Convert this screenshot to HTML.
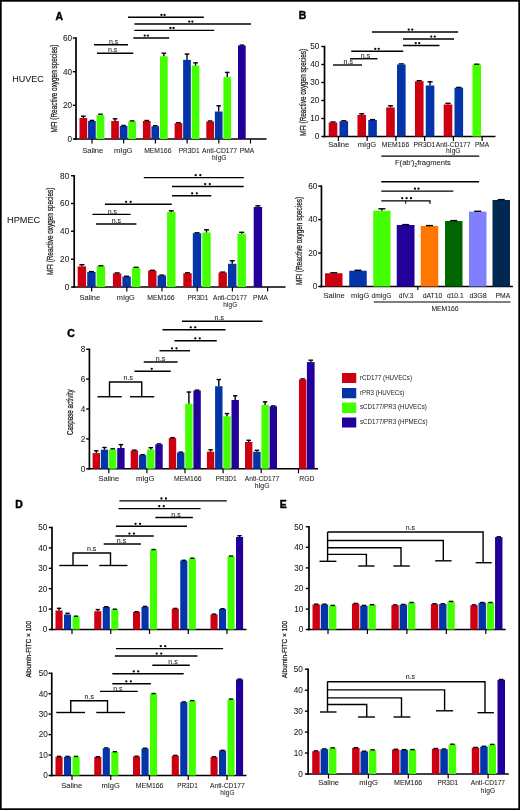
<!DOCTYPE html>
<html><head><meta charset="utf-8"><style>
html,body{margin:0;padding:0;background:#fff;}
svg{display:block;filter:blur(0.25px);}
text{font-family:"Liberation Sans",sans-serif;}
</style></head><body>
<svg width="520" height="810" viewBox="0 0 520 810">
<rect width="520" height="810" fill="#fff"/>
<text x="59.3" y="19.5" font-size="10.4" text-anchor="middle" fill="#000" font-weight="bold" stroke="#000" stroke-width="0.45">A</text>
<text x="28.1" y="81.7" font-size="9" text-anchor="middle" fill="#1a1a1a" stroke="#1a1a1a" stroke-width="0.06">HUVEC</text>
<text x="56.8" y="88.55" font-size="8.8" text-anchor="middle" fill="#1a1a1a" textLength="87.7" lengthAdjust="spacingAndGlyphs" transform="rotate(-90 56.8 88.55)" stroke="#1a1a1a" stroke-width="0.25">MFI (Reactive oxygen species)</text>
<line x1="76" y1="37.3" x2="76" y2="139.8" stroke="#000" stroke-width="1.7"/>
<line x1="72.8" y1="38" x2="76" y2="38" stroke="#000" stroke-width="1.4"/>
<text x="72" y="40.8" font-size="8.2" text-anchor="end" fill="#1a1a1a" stroke="#1a1a1a" stroke-width="0.06">60</text>
<line x1="72.8" y1="71.7" x2="76" y2="71.7" stroke="#000" stroke-width="1.4"/>
<text x="72" y="74.5" font-size="8.2" text-anchor="end" fill="#1a1a1a" stroke="#1a1a1a" stroke-width="0.06">40</text>
<line x1="72.8" y1="105.3" x2="76" y2="105.3" stroke="#000" stroke-width="1.4"/>
<text x="72" y="108.1" font-size="8.2" text-anchor="end" fill="#1a1a1a" stroke="#1a1a1a" stroke-width="0.06">20</text>
<line x1="72.8" y1="139" x2="76" y2="139" stroke="#000" stroke-width="1.4"/>
<text x="72" y="141.8" font-size="8.2" text-anchor="end" fill="#1a1a1a" stroke="#1a1a1a" stroke-width="0.06">0</text>
<line x1="74.4" y1="139" x2="266.5" y2="139" stroke="#000" stroke-width="1.7"/>
<line x1="92" y1="139" x2="92" y2="143.5" stroke="#000" stroke-width="1.2"/>
<line x1="123.7" y1="139" x2="123.7" y2="143.5" stroke="#000" stroke-width="1.2"/>
<line x1="155.4" y1="139" x2="155.4" y2="143.5" stroke="#000" stroke-width="1.2"/>
<line x1="187.1" y1="139" x2="187.1" y2="143.5" stroke="#000" stroke-width="1.2"/>
<line x1="218.8" y1="139" x2="218.8" y2="143.5" stroke="#000" stroke-width="1.2"/>
<line x1="250.5" y1="139" x2="250.5" y2="143.5" stroke="#000" stroke-width="1.2"/>
<rect x="79.5" y="118" width="7.7" height="21" fill="#cc0011"/>
<line x1="83.35" y1="118" x2="83.35" y2="115.9" stroke="#000" stroke-width="1.4"/>
<line x1="81.04" y1="116.2" x2="85.66" y2="116.2" stroke="#000" stroke-width="1.4"/>
<rect x="88.05" y="121" width="7.7" height="18" fill="#0334a8"/>
<line x1="89.59" y1="120.4" x2="94.21" y2="120.4" stroke="#000" stroke-width="1.4"/>
<rect x="96.6" y="115.1" width="7.7" height="23.9" fill="#44ff00"/>
<line x1="98.14" y1="114.2" x2="102.76" y2="114.2" stroke="#000" stroke-width="1.4"/>
<rect x="111.2" y="121" width="7.7" height="18" fill="#cc0011"/>
<line x1="115.05" y1="121" x2="115.05" y2="118.5" stroke="#000" stroke-width="1.4"/>
<line x1="112.74" y1="118.8" x2="117.36" y2="118.8" stroke="#000" stroke-width="1.4"/>
<rect x="119.75" y="126" width="7.7" height="13" fill="#0334a8"/>
<line x1="121.29" y1="125.5" x2="125.91" y2="125.5" stroke="#000" stroke-width="1.4"/>
<rect x="128.3" y="121.4" width="7.7" height="17.6" fill="#44ff00"/>
<line x1="129.84" y1="120.9" x2="134.46" y2="120.9" stroke="#000" stroke-width="1.4"/>
<rect x="142.9" y="121" width="7.7" height="18" fill="#cc0011"/>
<line x1="144.44" y1="120.5" x2="149.06" y2="120.5" stroke="#000" stroke-width="1.4"/>
<rect x="151.45" y="126.2" width="7.7" height="12.8" fill="#0334a8"/>
<line x1="152.99" y1="125.7" x2="157.61" y2="125.7" stroke="#000" stroke-width="1.4"/>
<rect x="160" y="56.3" width="7.7" height="82.7" fill="#44ff00"/>
<line x1="163.85" y1="56.3" x2="163.85" y2="52.9" stroke="#000" stroke-width="1.4"/>
<line x1="161.54" y1="53.2" x2="166.16" y2="53.2" stroke="#000" stroke-width="1.4"/>
<rect x="174.6" y="123.2" width="7.7" height="15.8" fill="#cc0011"/>
<line x1="176.14" y1="122.7" x2="180.76" y2="122.7" stroke="#000" stroke-width="1.4"/>
<rect x="183.15" y="59.8" width="7.7" height="79.2" fill="#0334a8"/>
<line x1="187" y1="59.8" x2="187" y2="53.8" stroke="#000" stroke-width="1.4"/>
<line x1="184.69" y1="54.1" x2="189.31" y2="54.1" stroke="#000" stroke-width="1.4"/>
<rect x="191.7" y="65.6" width="7.7" height="73.4" fill="#44ff00"/>
<line x1="195.55" y1="65.6" x2="195.55" y2="62.5" stroke="#000" stroke-width="1.4"/>
<line x1="193.24" y1="62.8" x2="197.86" y2="62.8" stroke="#000" stroke-width="1.4"/>
<rect x="206.3" y="121.5" width="7.7" height="17.5" fill="#cc0011"/>
<line x1="207.84" y1="121" x2="212.46" y2="121" stroke="#000" stroke-width="1.4"/>
<rect x="214.85" y="111.5" width="7.7" height="27.5" fill="#0334a8"/>
<line x1="218.7" y1="111.5" x2="218.7" y2="105.5" stroke="#000" stroke-width="1.4"/>
<line x1="216.39" y1="105.8" x2="221.01" y2="105.8" stroke="#000" stroke-width="1.4"/>
<rect x="223.4" y="77.1" width="7.7" height="61.9" fill="#44ff00"/>
<line x1="227.25" y1="77.1" x2="227.25" y2="72.1" stroke="#000" stroke-width="1.4"/>
<line x1="224.94" y1="72.4" x2="229.56" y2="72.4" stroke="#000" stroke-width="1.4"/>
<rect x="238" y="45.5" width="7.7" height="93.5" fill="#220099"/>
<line x1="239.54" y1="45.1" x2="244.16" y2="45.1" stroke="#000" stroke-width="1.4"/>
<text x="92.75" y="153.3" font-size="8" text-anchor="middle" fill="#1a1a1a" textLength="21" lengthAdjust="spacingAndGlyphs" stroke="#1a1a1a" stroke-width="0.06">Saline</text>
<text x="123.25" y="153.3" font-size="8" text-anchor="middle" fill="#1a1a1a" textLength="18.6" lengthAdjust="spacingAndGlyphs" stroke="#1a1a1a" stroke-width="0.06">mIgG</text>
<text x="157.8" y="153.3" font-size="8" text-anchor="middle" fill="#1a1a1a" textLength="27.3" lengthAdjust="spacingAndGlyphs" stroke="#1a1a1a" stroke-width="0.06">MEM166</text>
<text x="189.2" y="153.3" font-size="8" text-anchor="middle" fill="#1a1a1a" textLength="20.9" lengthAdjust="spacingAndGlyphs" stroke="#1a1a1a" stroke-width="0.06">PR3D1</text>
<text x="219.6" y="153.3" font-size="8" text-anchor="middle" fill="#1a1a1a" textLength="35.1" lengthAdjust="spacingAndGlyphs" stroke="#1a1a1a" stroke-width="0.06">Anti-CD177</text>
<text x="219.3" y="160.3" font-size="8" text-anchor="middle" fill="#1a1a1a" textLength="14.5" lengthAdjust="spacingAndGlyphs" stroke="#1a1a1a" stroke-width="0.06">hIgG</text>
<text x="247" y="153.3" font-size="8" text-anchor="middle" fill="#1a1a1a" textLength="14.5" lengthAdjust="spacingAndGlyphs" stroke="#1a1a1a" stroke-width="0.06">PMA</text>
<line x1="128" y1="17.3" x2="203.8" y2="17.3" stroke="#000" stroke-width="1.4"/>
<circle cx="161.45" cy="14.9" r="1.15" fill="#000"/>
<circle cx="164.55" cy="14.9" r="1.15" fill="#000"/>
<line x1="134.4" y1="24" x2="251" y2="24" stroke="#000" stroke-width="1.4"/>
<circle cx="189.25" cy="21.6" r="1.15" fill="#000"/>
<circle cx="192.35" cy="21.6" r="1.15" fill="#000"/>
<line x1="134.4" y1="30.4" x2="214.2" y2="30.4" stroke="#000" stroke-width="1.4"/>
<circle cx="170.45" cy="28" r="1.15" fill="#000"/>
<circle cx="173.55" cy="28" r="1.15" fill="#000"/>
<line x1="133.3" y1="38" x2="169.2" y2="38" stroke="#000" stroke-width="1.4"/>
<circle cx="144.75" cy="35.6" r="1.15" fill="#000"/>
<circle cx="147.85" cy="35.6" r="1.15" fill="#000"/>
<line x1="94" y1="44.8" x2="128" y2="44.8" stroke="#000" stroke-width="1.4"/>
<text x="113.6" y="43.9" font-size="7" text-anchor="middle" fill="#1a1a1a" stroke="#1a1a1a" stroke-width="0.06">n.s</text>
<line x1="97" y1="53.3" x2="133.3" y2="53.3" stroke="#000" stroke-width="1.4"/>
<text x="112.7" y="52.4" font-size="7" text-anchor="middle" fill="#1a1a1a" stroke="#1a1a1a" stroke-width="0.06">n.s</text>
<text x="23.6" y="222.9" font-size="9.2" text-anchor="middle" fill="#1a1a1a" stroke="#1a1a1a" stroke-width="0.06">HPMEC</text>
<text x="52.9" y="231.35" font-size="8.8" text-anchor="middle" fill="#1a1a1a" textLength="87.5" lengthAdjust="spacingAndGlyphs" transform="rotate(-90 52.9 231.35)" stroke="#1a1a1a" stroke-width="0.25">MFI (Reactive oxygen species)</text>
<line x1="74.2" y1="175.05" x2="74.2" y2="287.8" stroke="#000" stroke-width="1.7"/>
<line x1="71" y1="175.75" x2="74.2" y2="175.75" stroke="#000" stroke-width="1.4"/>
<text x="69.2" y="178.55" font-size="8.2" text-anchor="end" fill="#1a1a1a" stroke="#1a1a1a" stroke-width="0.06">80</text>
<line x1="71" y1="203.5" x2="74.2" y2="203.5" stroke="#000" stroke-width="1.4"/>
<text x="69.2" y="206.3" font-size="8.2" text-anchor="end" fill="#1a1a1a" stroke="#1a1a1a" stroke-width="0.06">60</text>
<line x1="71" y1="231.25" x2="74.2" y2="231.25" stroke="#000" stroke-width="1.4"/>
<text x="69.2" y="234.05" font-size="8.2" text-anchor="end" fill="#1a1a1a" stroke="#1a1a1a" stroke-width="0.06">40</text>
<line x1="71" y1="259.25" x2="74.2" y2="259.25" stroke="#000" stroke-width="1.4"/>
<text x="69.2" y="262.05" font-size="8.2" text-anchor="end" fill="#1a1a1a" stroke="#1a1a1a" stroke-width="0.06">20</text>
<line x1="71" y1="287" x2="74.2" y2="287" stroke="#000" stroke-width="1.4"/>
<text x="69.2" y="289.8" font-size="8.2" text-anchor="end" fill="#1a1a1a" stroke="#1a1a1a" stroke-width="0.06">0</text>
<line x1="72.6" y1="287" x2="285.5" y2="287" stroke="#000" stroke-width="1.7"/>
<line x1="91.6" y1="287" x2="91.6" y2="291.5" stroke="#000" stroke-width="1.2"/>
<line x1="126.8" y1="287" x2="126.8" y2="291.5" stroke="#000" stroke-width="1.2"/>
<line x1="162" y1="287" x2="162" y2="291.5" stroke="#000" stroke-width="1.2"/>
<line x1="197.2" y1="287" x2="197.2" y2="291.5" stroke="#000" stroke-width="1.2"/>
<line x1="232.4" y1="287" x2="232.4" y2="291.5" stroke="#000" stroke-width="1.2"/>
<line x1="267.6" y1="287" x2="267.6" y2="291.5" stroke="#000" stroke-width="1.2"/>
<rect x="77.7" y="266.4" width="8.4" height="20.6" fill="#cc0011"/>
<line x1="81.9" y1="266.4" x2="81.9" y2="264.4" stroke="#000" stroke-width="1.4"/>
<line x1="79.38" y1="264.7" x2="84.42" y2="264.7" stroke="#000" stroke-width="1.4"/>
<rect x="87.2" y="272" width="8.4" height="15" fill="#0334a8"/>
<line x1="88.88" y1="271.6" x2="93.92" y2="271.6" stroke="#000" stroke-width="1.4"/>
<rect x="96.7" y="266.2" width="8.4" height="20.8" fill="#44ff00"/>
<line x1="98.38" y1="265.8" x2="103.42" y2="265.8" stroke="#000" stroke-width="1.4"/>
<rect x="112.9" y="273.4" width="8.4" height="13.6" fill="#cc0011"/>
<line x1="114.58" y1="272.9" x2="119.62" y2="272.9" stroke="#000" stroke-width="1.4"/>
<rect x="122.4" y="276.6" width="8.4" height="10.4" fill="#0334a8"/>
<line x1="124.08" y1="276.3" x2="129.12" y2="276.3" stroke="#000" stroke-width="1.4"/>
<rect x="131.9" y="267.8" width="8.4" height="19.2" fill="#44ff00"/>
<line x1="133.58" y1="267.3" x2="138.62" y2="267.3" stroke="#000" stroke-width="1.4"/>
<rect x="148.1" y="270.6" width="8.4" height="16.4" fill="#cc0011"/>
<line x1="149.78" y1="270.3" x2="154.82" y2="270.3" stroke="#000" stroke-width="1.4"/>
<rect x="157.6" y="275.5" width="8.4" height="11.5" fill="#0334a8"/>
<line x1="159.28" y1="275.1" x2="164.32" y2="275.1" stroke="#000" stroke-width="1.4"/>
<rect x="167.1" y="212" width="8.4" height="75" fill="#44ff00"/>
<line x1="171.3" y1="212" x2="171.3" y2="210.5" stroke="#000" stroke-width="1.4"/>
<line x1="168.78" y1="210.8" x2="173.82" y2="210.8" stroke="#000" stroke-width="1.4"/>
<rect x="183.3" y="273.25" width="8.4" height="13.75" fill="#cc0011"/>
<line x1="184.98" y1="272.8" x2="190.02" y2="272.8" stroke="#000" stroke-width="1.4"/>
<rect x="192.8" y="233.25" width="8.4" height="53.75" fill="#0334a8"/>
<line x1="194.48" y1="232.8" x2="199.52" y2="232.8" stroke="#000" stroke-width="1.4"/>
<rect x="202.3" y="232.5" width="8.4" height="54.5" fill="#44ff00"/>
<line x1="206.5" y1="232.5" x2="206.5" y2="229.5" stroke="#000" stroke-width="1.4"/>
<line x1="203.98" y1="229.8" x2="209.02" y2="229.8" stroke="#000" stroke-width="1.4"/>
<rect x="218.5" y="272.5" width="8.4" height="14.5" fill="#cc0011"/>
<line x1="220.18" y1="272.1" x2="225.22" y2="272.1" stroke="#000" stroke-width="1.4"/>
<rect x="228" y="263.75" width="8.4" height="23.25" fill="#0334a8"/>
<line x1="232.2" y1="263.75" x2="232.2" y2="260.5" stroke="#000" stroke-width="1.4"/>
<line x1="229.68" y1="260.8" x2="234.72" y2="260.8" stroke="#000" stroke-width="1.4"/>
<rect x="237.5" y="233.75" width="8.4" height="53.25" fill="#44ff00"/>
<line x1="241.7" y1="233.75" x2="241.7" y2="232" stroke="#000" stroke-width="1.4"/>
<line x1="239.18" y1="232.3" x2="244.22" y2="232.3" stroke="#000" stroke-width="1.4"/>
<rect x="253.7" y="207" width="8.4" height="80" fill="#220099"/>
<line x1="257.9" y1="207" x2="257.9" y2="205.5" stroke="#000" stroke-width="1.4"/>
<line x1="255.38" y1="205.8" x2="260.42" y2="205.8" stroke="#000" stroke-width="1.4"/>
<text x="89.8" y="299.5" font-size="8" text-anchor="middle" fill="#1a1a1a" textLength="20.7" lengthAdjust="spacingAndGlyphs" stroke="#1a1a1a" stroke-width="0.06">Saline</text>
<text x="125.8" y="299.5" font-size="8" text-anchor="middle" fill="#1a1a1a" textLength="18.1" lengthAdjust="spacingAndGlyphs" stroke="#1a1a1a" stroke-width="0.06">mIgG</text>
<text x="160.9" y="299.5" font-size="8" text-anchor="middle" fill="#1a1a1a" textLength="27.4" lengthAdjust="spacingAndGlyphs" stroke="#1a1a1a" stroke-width="0.06">MEM166</text>
<text x="197.9" y="299.5" font-size="8" text-anchor="middle" fill="#1a1a1a" textLength="20.7" lengthAdjust="spacingAndGlyphs" stroke="#1a1a1a" stroke-width="0.06">PR3D1</text>
<text x="230" y="299.5" font-size="8" text-anchor="middle" fill="#1a1a1a" textLength="33.9" lengthAdjust="spacingAndGlyphs" stroke="#1a1a1a" stroke-width="0.06">Anti-CD177</text>
<text x="230.2" y="306.5" font-size="8" text-anchor="middle" fill="#1a1a1a" textLength="13.9" lengthAdjust="spacingAndGlyphs" stroke="#1a1a1a" stroke-width="0.06">hIgG</text>
<text x="260.5" y="299.5" font-size="8" text-anchor="middle" fill="#1a1a1a" textLength="14.8" lengthAdjust="spacingAndGlyphs" stroke="#1a1a1a" stroke-width="0.06">PMA</text>
<line x1="143.75" y1="177.6" x2="243.75" y2="177.6" stroke="#000" stroke-width="1.4"/>
<circle cx="195.7" cy="175.2" r="1.15" fill="#000"/>
<circle cx="200.3" cy="175.2" r="1.15" fill="#000"/>
<line x1="172" y1="186.5" x2="243.75" y2="186.5" stroke="#000" stroke-width="1.4"/>
<circle cx="205.2" cy="184.1" r="1.15" fill="#000"/>
<circle cx="209.8" cy="184.1" r="1.15" fill="#000"/>
<line x1="172" y1="195.75" x2="211.25" y2="195.75" stroke="#000" stroke-width="1.4"/>
<circle cx="192.2" cy="193.35" r="1.15" fill="#000"/>
<circle cx="196.8" cy="193.35" r="1.15" fill="#000"/>
<line x1="105" y1="204.2" x2="171.75" y2="204.2" stroke="#000" stroke-width="1.4"/>
<circle cx="126.1" cy="201.8" r="1.15" fill="#000"/>
<circle cx="130.7" cy="201.8" r="1.15" fill="#000"/>
<line x1="92.4" y1="214.4" x2="130.6" y2="214.4" stroke="#000" stroke-width="1.4"/>
<text x="112.4" y="213.5" font-size="7" text-anchor="middle" fill="#1a1a1a" stroke="#1a1a1a" stroke-width="0.06">n.s</text>
<line x1="96" y1="224" x2="136.4" y2="224" stroke="#000" stroke-width="1.4"/>
<text x="116.4" y="223.1" font-size="7" text-anchor="middle" fill="#1a1a1a" stroke="#1a1a1a" stroke-width="0.06">n.s</text>
<text x="302.4" y="19.3" font-size="10.4" text-anchor="middle" fill="#000" font-weight="bold" stroke="#000" stroke-width="0.45">B</text>
<text x="306" y="92.5" font-size="8.8" text-anchor="middle" fill="#1a1a1a" textLength="87.2" lengthAdjust="spacingAndGlyphs" transform="rotate(-90 306 92.5)" stroke="#1a1a1a" stroke-width="0.25">MFI (Reactive oxygen species)</text>
<line x1="324.5" y1="45.8" x2="324.5" y2="137.3" stroke="#000" stroke-width="1.7"/>
<line x1="321.3" y1="46.5" x2="324.5" y2="46.5" stroke="#000" stroke-width="1.4"/>
<text x="319.3" y="49.3" font-size="8.2" text-anchor="end" fill="#1a1a1a" stroke="#1a1a1a" stroke-width="0.06">50</text>
<line x1="321.3" y1="64.5" x2="324.5" y2="64.5" stroke="#000" stroke-width="1.4"/>
<text x="319.3" y="67.3" font-size="8.2" text-anchor="end" fill="#1a1a1a" stroke="#1a1a1a" stroke-width="0.06">40</text>
<line x1="321.3" y1="82.5" x2="324.5" y2="82.5" stroke="#000" stroke-width="1.4"/>
<text x="319.3" y="85.3" font-size="8.2" text-anchor="end" fill="#1a1a1a" stroke="#1a1a1a" stroke-width="0.06">30</text>
<line x1="321.3" y1="100.5" x2="324.5" y2="100.5" stroke="#000" stroke-width="1.4"/>
<text x="319.3" y="103.3" font-size="8.2" text-anchor="end" fill="#1a1a1a" stroke="#1a1a1a" stroke-width="0.06">20</text>
<line x1="321.3" y1="118.5" x2="324.5" y2="118.5" stroke="#000" stroke-width="1.4"/>
<text x="319.3" y="121.3" font-size="8.2" text-anchor="end" fill="#1a1a1a" stroke="#1a1a1a" stroke-width="0.06">10</text>
<line x1="321.3" y1="136.5" x2="324.5" y2="136.5" stroke="#000" stroke-width="1.4"/>
<text x="319.3" y="139.3" font-size="8.2" text-anchor="end" fill="#1a1a1a" stroke="#1a1a1a" stroke-width="0.06">0</text>
<line x1="322.9" y1="136.5" x2="495.5" y2="136.5" stroke="#000" stroke-width="1.7"/>
<line x1="338.4" y1="136.5" x2="338.4" y2="141" stroke="#000" stroke-width="1.2"/>
<line x1="367.15" y1="136.5" x2="367.15" y2="141" stroke="#000" stroke-width="1.2"/>
<line x1="395.9" y1="136.5" x2="395.9" y2="141" stroke="#000" stroke-width="1.2"/>
<line x1="424.65" y1="136.5" x2="424.65" y2="141" stroke="#000" stroke-width="1.2"/>
<line x1="453.4" y1="136.5" x2="453.4" y2="141" stroke="#000" stroke-width="1.2"/>
<line x1="482.15" y1="136.5" x2="482.15" y2="141" stroke="#000" stroke-width="1.2"/>
<rect x="328.7" y="122.5" width="8.6" height="14" fill="#cc0011"/>
<line x1="330.42" y1="122" x2="335.58" y2="122" stroke="#000" stroke-width="1.4"/>
<rect x="339.5" y="121.25" width="8.6" height="15.25" fill="#0334a8"/>
<line x1="341.22" y1="120.8" x2="346.38" y2="120.8" stroke="#000" stroke-width="1.4"/>
<rect x="357.45" y="115" width="8.6" height="21.5" fill="#cc0011"/>
<line x1="361.75" y1="115" x2="361.75" y2="113.5" stroke="#000" stroke-width="1.4"/>
<line x1="359.17" y1="113.8" x2="364.33" y2="113.8" stroke="#000" stroke-width="1.4"/>
<rect x="368.25" y="120" width="8.6" height="16.5" fill="#0334a8"/>
<line x1="369.97" y1="119.6" x2="375.13" y2="119.6" stroke="#000" stroke-width="1.4"/>
<rect x="386.2" y="107.5" width="8.6" height="29" fill="#cc0011"/>
<line x1="390.5" y1="107.5" x2="390.5" y2="105.5" stroke="#000" stroke-width="1.4"/>
<line x1="387.92" y1="105.8" x2="393.08" y2="105.8" stroke="#000" stroke-width="1.4"/>
<rect x="397" y="64.5" width="8.6" height="72" fill="#0334a8"/>
<line x1="398.72" y1="63.9" x2="403.88" y2="63.9" stroke="#000" stroke-width="1.4"/>
<rect x="414.95" y="81.25" width="8.6" height="55.25" fill="#cc0011"/>
<line x1="416.67" y1="80.7" x2="421.83" y2="80.7" stroke="#000" stroke-width="1.4"/>
<rect x="425.75" y="85.5" width="8.6" height="51" fill="#0334a8"/>
<line x1="430.05" y1="85.5" x2="430.05" y2="81.5" stroke="#000" stroke-width="1.4"/>
<line x1="427.47" y1="81.8" x2="432.63" y2="81.8" stroke="#000" stroke-width="1.4"/>
<rect x="443.7" y="104.5" width="8.6" height="32" fill="#cc0011"/>
<line x1="448" y1="104.5" x2="448" y2="103" stroke="#000" stroke-width="1.4"/>
<line x1="445.42" y1="103.3" x2="450.58" y2="103.3" stroke="#000" stroke-width="1.4"/>
<rect x="454.5" y="87.75" width="8.6" height="48.75" fill="#0334a8"/>
<line x1="456.22" y1="87.4" x2="461.38" y2="87.4" stroke="#000" stroke-width="1.4"/>
<rect x="472.45" y="64.5" width="8.6" height="72" fill="#44ff00"/>
<line x1="474.17" y1="64.2" x2="479.33" y2="64.2" stroke="#000" stroke-width="1.4"/>
<text x="338.7" y="147.4" font-size="8" text-anchor="middle" fill="#1a1a1a" textLength="21.1" lengthAdjust="spacingAndGlyphs" stroke="#1a1a1a" stroke-width="0.06">Saline</text>
<text x="367" y="147.4" font-size="8" text-anchor="middle" fill="#1a1a1a" textLength="18.6" lengthAdjust="spacingAndGlyphs" stroke="#1a1a1a" stroke-width="0.06">mIgG</text>
<text x="395.5" y="147.4" font-size="8" text-anchor="middle" fill="#1a1a1a" textLength="27.4" lengthAdjust="spacingAndGlyphs" stroke="#1a1a1a" stroke-width="0.06">MEM166</text>
<text x="424.4" y="147.4" font-size="8" text-anchor="middle" fill="#1a1a1a" textLength="21.7" lengthAdjust="spacingAndGlyphs" stroke="#1a1a1a" stroke-width="0.06">PR3D1</text>
<text x="453.2" y="147.4" font-size="8" text-anchor="middle" fill="#1a1a1a" textLength="34.7" lengthAdjust="spacingAndGlyphs" stroke="#1a1a1a" stroke-width="0.06">Anti-CD177</text>
<text x="453.3" y="152.8" font-size="8" text-anchor="middle" fill="#1a1a1a" textLength="14.4" lengthAdjust="spacingAndGlyphs" stroke="#1a1a1a" stroke-width="0.06">hIgG</text>
<text x="482" y="147.4" font-size="8" text-anchor="middle" fill="#1a1a1a" textLength="14.2" lengthAdjust="spacingAndGlyphs" stroke="#1a1a1a" stroke-width="0.06">PMA</text>
<line x1="381.25" y1="156.1" x2="479.25" y2="156.1" stroke="#000" stroke-width="1.4"/>
<text x="395" y="164.5" font-size="8" fill="#1a1a1a" stroke="#1a1a1a" stroke-width="0.06" textLength="55.8" lengthAdjust="spacingAndGlyphs">F(ab')<tspan font-size="5" dy="2">2</tspan><tspan dy="-2">fragments</tspan></text>
<line x1="372" y1="32" x2="458" y2="32" stroke="#000" stroke-width="1.4"/>
<circle cx="408.75" cy="29.6" r="1.15" fill="#000"/>
<circle cx="412.25" cy="29.6" r="1.15" fill="#000"/>
<line x1="403" y1="39" x2="454" y2="39" stroke="#000" stroke-width="1.4"/>
<circle cx="431.25" cy="36.6" r="1.15" fill="#000"/>
<circle cx="434.75" cy="36.6" r="1.15" fill="#000"/>
<line x1="403" y1="45.5" x2="439.5" y2="45.5" stroke="#000" stroke-width="1.4"/>
<circle cx="415.75" cy="43.1" r="1.15" fill="#000"/>
<circle cx="419.25" cy="43.1" r="1.15" fill="#000"/>
<line x1="351.25" y1="51.25" x2="403.25" y2="51.25" stroke="#000" stroke-width="1.4"/>
<circle cx="375.25" cy="48.85" r="1.15" fill="#000"/>
<circle cx="378.75" cy="48.85" r="1.15" fill="#000"/>
<line x1="350" y1="58.75" x2="377.5" y2="58.75" stroke="#000" stroke-width="1.4"/>
<text x="365.5" y="57.85" font-size="7" text-anchor="middle" fill="#1a1a1a" stroke="#1a1a1a" stroke-width="0.06">n.s</text>
<line x1="333" y1="65" x2="362" y2="65" stroke="#000" stroke-width="1.4"/>
<text x="348.25" y="64.1" font-size="7" text-anchor="middle" fill="#1a1a1a" stroke="#1a1a1a" stroke-width="0.06">n.s</text>
<text x="301.9" y="240.95" font-size="8.8" text-anchor="middle" fill="#1a1a1a" textLength="88.1" lengthAdjust="spacingAndGlyphs" transform="rotate(-90 301.9 240.95)" stroke="#1a1a1a" stroke-width="0.25">MFI (Reactive oxygen species)</text>
<line x1="321.45" y1="185.4" x2="321.45" y2="287.3" stroke="#000" stroke-width="1.7"/>
<line x1="318.25" y1="186.1" x2="321.45" y2="186.1" stroke="#000" stroke-width="1.4"/>
<text x="317.25" y="188.9" font-size="8.2" text-anchor="end" fill="#1a1a1a" stroke="#1a1a1a" stroke-width="0.06">60</text>
<line x1="318.25" y1="219.6" x2="321.45" y2="219.6" stroke="#000" stroke-width="1.4"/>
<text x="317.25" y="222.4" font-size="8.2" text-anchor="end" fill="#1a1a1a" stroke="#1a1a1a" stroke-width="0.06">40</text>
<line x1="318.25" y1="253.05" x2="321.45" y2="253.05" stroke="#000" stroke-width="1.4"/>
<text x="317.25" y="255.85" font-size="8.2" text-anchor="end" fill="#1a1a1a" stroke="#1a1a1a" stroke-width="0.06">20</text>
<line x1="318.25" y1="286.5" x2="321.45" y2="286.5" stroke="#000" stroke-width="1.4"/>
<text x="317.25" y="289.3" font-size="8.2" text-anchor="end" fill="#1a1a1a" stroke="#1a1a1a" stroke-width="0.06">0</text>
<line x1="319.85" y1="286.5" x2="512.9" y2="286.5" stroke="#000" stroke-width="1.7"/>
<rect x="325" y="273.25" width="17.5" height="13.25" fill="#cc0011"/>
<line x1="330.25" y1="272.8" x2="337.25" y2="272.8" stroke="#000" stroke-width="1.4"/>
<rect x="349.25" y="270.75" width="17.5" height="15.75" fill="#0334a8"/>
<line x1="354.5" y1="270.3" x2="361.5" y2="270.3" stroke="#000" stroke-width="1.4"/>
<rect x="373.25" y="210.75" width="17.25" height="75.75" fill="#44ff00"/>
<line x1="381.88" y1="210.75" x2="381.88" y2="208.5" stroke="#000" stroke-width="1.4"/>
<line x1="378.38" y1="208.8" x2="385.38" y2="208.8" stroke="#000" stroke-width="1.4"/>
<rect x="396.75" y="225" width="17.75" height="61.5" fill="#220099"/>
<line x1="402.12" y1="224.6" x2="409.12" y2="224.6" stroke="#000" stroke-width="1.4"/>
<rect x="420.75" y="226" width="17.5" height="60.5" fill="#ff7700"/>
<line x1="426" y1="225.6" x2="433" y2="225.6" stroke="#000" stroke-width="1.4"/>
<rect x="445" y="221" width="17.5" height="65.5" fill="#006600"/>
<line x1="450.25" y1="220.6" x2="457.25" y2="220.6" stroke="#000" stroke-width="1.4"/>
<rect x="469" y="211.6" width="17.5" height="74.9" fill="#8080ff"/>
<line x1="474.25" y1="211.3" x2="481.25" y2="211.3" stroke="#000" stroke-width="1.4"/>
<rect x="492.5" y="200" width="17.5" height="86.5" fill="#002850"/>
<line x1="497.75" y1="199.6" x2="504.75" y2="199.6" stroke="#000" stroke-width="1.4"/>
<line x1="417.8" y1="286.5" x2="417.8" y2="290" stroke="#000" stroke-width="1.2"/>
<text x="334.1" y="297.5" font-size="8" text-anchor="middle" fill="#1a1a1a" textLength="21.1" lengthAdjust="spacingAndGlyphs" stroke="#1a1a1a" stroke-width="0.06">Saline</text>
<text x="360.1" y="297.5" font-size="8" text-anchor="middle" fill="#1a1a1a" textLength="18.3" lengthAdjust="spacingAndGlyphs" stroke="#1a1a1a" stroke-width="0.06">mIgG</text>
<text x="381.5" y="297.5" font-size="8" text-anchor="middle" fill="#1a1a1a" textLength="19.8" lengthAdjust="spacingAndGlyphs" stroke="#1a1a1a" stroke-width="0.06">dmIgG</text>
<text x="406.1" y="297.5" font-size="8" text-anchor="middle" fill="#1a1a1a" textLength="14.7" lengthAdjust="spacingAndGlyphs" stroke="#1a1a1a" stroke-width="0.06">dIV.3</text>
<text x="432.5" y="297.5" font-size="8" text-anchor="middle" fill="#1a1a1a" textLength="19.6" lengthAdjust="spacingAndGlyphs" stroke="#1a1a1a" stroke-width="0.06">dAT10</text>
<text x="455.3" y="297.5" font-size="8" text-anchor="middle" fill="#1a1a1a" textLength="16.7" lengthAdjust="spacingAndGlyphs" stroke="#1a1a1a" stroke-width="0.06">d10.1</text>
<text x="478.1" y="297.5" font-size="8" text-anchor="middle" fill="#1a1a1a" textLength="17.4" lengthAdjust="spacingAndGlyphs" stroke="#1a1a1a" stroke-width="0.06">d3G8</text>
<text x="502.9" y="297.5" font-size="8" text-anchor="middle" fill="#1a1a1a" textLength="14.7" lengthAdjust="spacingAndGlyphs" stroke="#1a1a1a" stroke-width="0.06">PMA</text>
<line x1="373.75" y1="302" x2="510.5" y2="302" stroke="#000" stroke-width="1.2"/>
<text x="445" y="310.8" font-size="8" text-anchor="middle" fill="#1a1a1a" textLength="27.2" lengthAdjust="spacingAndGlyphs" stroke="#1a1a1a" stroke-width="0.06">MEM166</text>
<line x1="381.25" y1="181.8" x2="479.1" y2="181.8" stroke="#000" stroke-width="1.4"/>
<line x1="381.25" y1="191.1" x2="453.3" y2="191.1" stroke="#000" stroke-width="1.4"/>
<circle cx="414.95" cy="188.7" r="1.15" fill="#000"/>
<circle cx="418.45" cy="188.7" r="1.15" fill="#000"/>
<polyline points="405.7,203.8 405.7,200.8" fill="none" stroke="#000" stroke-width="1"/>
<polyline points="381.25,200.8 430,200.8 430,203.8" fill="none" stroke="#000" stroke-width="1.2"/>
<circle cx="402.2" cy="198.2" r="1.15" fill="#000"/>
<circle cx="406.6" cy="198.2" r="1.15" fill="#000"/>
<circle cx="411" cy="198.2" r="1.15" fill="#000"/>
<text x="71" y="337" font-size="10.4" text-anchor="middle" fill="#000" font-weight="bold" stroke="#000" stroke-width="0.45">C</text>
<text x="72.6" y="412.15" font-size="8.4" text-anchor="middle" fill="#1a1a1a" textLength="45.7" lengthAdjust="spacingAndGlyphs" transform="rotate(-90 72.6 412.15)" stroke="#1a1a1a" stroke-width="0.25">Caspase activity</text>
<line x1="89.4" y1="348.55" x2="89.4" y2="469.55" stroke="#000" stroke-width="1.7"/>
<line x1="86.2" y1="349.25" x2="89.4" y2="349.25" stroke="#000" stroke-width="1.4"/>
<text x="85.4" y="352.05" font-size="8.2" text-anchor="end" fill="#1a1a1a" stroke="#1a1a1a" stroke-width="0.06">8</text>
<line x1="86.2" y1="379.1" x2="89.4" y2="379.1" stroke="#000" stroke-width="1.4"/>
<text x="85.4" y="381.9" font-size="8.2" text-anchor="end" fill="#1a1a1a" stroke="#1a1a1a" stroke-width="0.06">6</text>
<line x1="86.2" y1="409" x2="89.4" y2="409" stroke="#000" stroke-width="1.4"/>
<text x="85.4" y="411.8" font-size="8.2" text-anchor="end" fill="#1a1a1a" stroke="#1a1a1a" stroke-width="0.06">4</text>
<line x1="86.2" y1="438.9" x2="89.4" y2="438.9" stroke="#000" stroke-width="1.4"/>
<text x="85.4" y="441.7" font-size="8.2" text-anchor="end" fill="#1a1a1a" stroke="#1a1a1a" stroke-width="0.06">2</text>
<line x1="86.2" y1="468.75" x2="89.4" y2="468.75" stroke="#000" stroke-width="1.4"/>
<text x="85.4" y="471.55" font-size="8.2" text-anchor="end" fill="#1a1a1a" stroke="#1a1a1a" stroke-width="0.06">0</text>
<line x1="87.8" y1="468.75" x2="318" y2="468.75" stroke="#000" stroke-width="1.7"/>
<line x1="108.8" y1="468.75" x2="108.8" y2="473.25" stroke="#000" stroke-width="1.2"/>
<line x1="146.9" y1="468.75" x2="146.9" y2="473.25" stroke="#000" stroke-width="1.2"/>
<line x1="185" y1="468.75" x2="185" y2="473.25" stroke="#000" stroke-width="1.2"/>
<line x1="223.1" y1="468.75" x2="223.1" y2="473.25" stroke="#000" stroke-width="1.2"/>
<line x1="261.2" y1="468.75" x2="261.2" y2="473.25" stroke="#000" stroke-width="1.2"/>
<line x1="298.5" y1="468.75" x2="298.5" y2="473.25" stroke="#000" stroke-width="1.2"/>
<rect x="92.6" y="453.1" width="7.4" height="15.65" fill="#cc0011"/>
<line x1="96.3" y1="453.1" x2="96.3" y2="450.5" stroke="#000" stroke-width="1.4"/>
<line x1="94.08" y1="450.8" x2="98.52" y2="450.8" stroke="#000" stroke-width="1.4"/>
<rect x="100.8" y="449.7" width="7.4" height="19.05" fill="#0334a8"/>
<line x1="104.5" y1="449.7" x2="104.5" y2="447.2" stroke="#000" stroke-width="1.4"/>
<line x1="102.28" y1="447.5" x2="106.72" y2="447.5" stroke="#000" stroke-width="1.4"/>
<rect x="109" y="449.5" width="7.4" height="19.25" fill="#44ff00"/>
<line x1="110.48" y1="448.8" x2="114.92" y2="448.8" stroke="#000" stroke-width="1.4"/>
<rect x="117.2" y="448" width="7.4" height="20.75" fill="#220099"/>
<line x1="120.9" y1="448" x2="120.9" y2="444.3" stroke="#000" stroke-width="1.4"/>
<line x1="118.68" y1="444.6" x2="123.12" y2="444.6" stroke="#000" stroke-width="1.4"/>
<rect x="130.7" y="450.5" width="7.4" height="18.25" fill="#cc0011"/>
<line x1="132.18" y1="450.1" x2="136.62" y2="450.1" stroke="#000" stroke-width="1.4"/>
<rect x="138.9" y="455.1" width="7.4" height="13.65" fill="#0334a8"/>
<line x1="140.38" y1="454.7" x2="144.82" y2="454.7" stroke="#000" stroke-width="1.4"/>
<rect x="147.1" y="449.5" width="7.4" height="19.25" fill="#44ff00"/>
<line x1="150.8" y1="449.5" x2="150.8" y2="447.4" stroke="#000" stroke-width="1.4"/>
<line x1="148.58" y1="447.7" x2="153.02" y2="447.7" stroke="#000" stroke-width="1.4"/>
<rect x="155.3" y="444.3" width="7.4" height="24.45" fill="#220099"/>
<line x1="156.78" y1="443.9" x2="161.22" y2="443.9" stroke="#000" stroke-width="1.4"/>
<rect x="168.8" y="438" width="7.4" height="30.75" fill="#cc0011"/>
<line x1="170.28" y1="437.6" x2="174.72" y2="437.6" stroke="#000" stroke-width="1.4"/>
<rect x="177" y="452.5" width="7.4" height="16.25" fill="#0334a8"/>
<line x1="178.48" y1="452.1" x2="182.92" y2="452.1" stroke="#000" stroke-width="1.4"/>
<rect x="185.2" y="403.75" width="7.4" height="65" fill="#44ff00"/>
<line x1="188.9" y1="403.75" x2="188.9" y2="391.75" stroke="#000" stroke-width="1.4"/>
<line x1="186.68" y1="392.05" x2="191.12" y2="392.05" stroke="#000" stroke-width="1.4"/>
<rect x="193.4" y="390.5" width="7.4" height="78.25" fill="#220099"/>
<line x1="194.88" y1="390.1" x2="199.32" y2="390.1" stroke="#000" stroke-width="1.4"/>
<rect x="206.9" y="451.75" width="7.4" height="17" fill="#cc0011"/>
<line x1="210.6" y1="451.75" x2="210.6" y2="449.5" stroke="#000" stroke-width="1.4"/>
<line x1="208.38" y1="449.8" x2="212.82" y2="449.8" stroke="#000" stroke-width="1.4"/>
<rect x="215.1" y="386.25" width="7.4" height="82.5" fill="#0334a8"/>
<line x1="218.8" y1="386.25" x2="218.8" y2="379.25" stroke="#000" stroke-width="1.4"/>
<line x1="216.58" y1="379.55" x2="221.02" y2="379.55" stroke="#000" stroke-width="1.4"/>
<rect x="223.3" y="416.25" width="7.4" height="52.5" fill="#44ff00"/>
<line x1="227" y1="416.25" x2="227" y2="413.25" stroke="#000" stroke-width="1.4"/>
<line x1="224.78" y1="413.55" x2="229.22" y2="413.55" stroke="#000" stroke-width="1.4"/>
<rect x="231.5" y="400" width="7.4" height="68.75" fill="#220099"/>
<line x1="235.2" y1="400" x2="235.2" y2="395.5" stroke="#000" stroke-width="1.4"/>
<line x1="232.98" y1="395.8" x2="237.42" y2="395.8" stroke="#000" stroke-width="1.4"/>
<rect x="245" y="442" width="7.4" height="26.75" fill="#cc0011"/>
<line x1="248.7" y1="442" x2="248.7" y2="440" stroke="#000" stroke-width="1.4"/>
<line x1="246.48" y1="440.3" x2="250.92" y2="440.3" stroke="#000" stroke-width="1.4"/>
<rect x="253.2" y="451.75" width="7.4" height="17" fill="#0334a8"/>
<line x1="256.9" y1="451.75" x2="256.9" y2="450" stroke="#000" stroke-width="1.4"/>
<line x1="254.68" y1="450.3" x2="259.12" y2="450.3" stroke="#000" stroke-width="1.4"/>
<rect x="261.4" y="405" width="7.4" height="63.75" fill="#44ff00"/>
<line x1="265.1" y1="405" x2="265.1" y2="401.5" stroke="#000" stroke-width="1.4"/>
<line x1="262.88" y1="401.8" x2="267.32" y2="401.8" stroke="#000" stroke-width="1.4"/>
<rect x="269.6" y="406.25" width="7.4" height="62.5" fill="#220099"/>
<line x1="271.08" y1="405.9" x2="275.52" y2="405.9" stroke="#000" stroke-width="1.4"/>
<rect x="299" y="379.4" width="7.4" height="89.35" fill="#cc0011"/>
<line x1="300.48" y1="378.9" x2="304.92" y2="378.9" stroke="#000" stroke-width="1.4"/>
<rect x="306.9" y="362.1" width="7.7" height="106.65" fill="#220099"/>
<line x1="310.75" y1="362.1" x2="310.75" y2="359.9" stroke="#000" stroke-width="1.4"/>
<line x1="308.44" y1="360.2" x2="313.06" y2="360.2" stroke="#000" stroke-width="1.4"/>
<text x="108.8" y="481.3" font-size="8" text-anchor="middle" fill="#1a1a1a" textLength="20.7" lengthAdjust="spacingAndGlyphs" stroke="#1a1a1a" stroke-width="0.06">Saline</text>
<text x="145.2" y="481.3" font-size="8" text-anchor="middle" fill="#1a1a1a" textLength="18.6" lengthAdjust="spacingAndGlyphs" stroke="#1a1a1a" stroke-width="0.06">mIgG</text>
<text x="187.8" y="481.3" font-size="8" text-anchor="middle" fill="#1a1a1a" textLength="27.4" lengthAdjust="spacingAndGlyphs" stroke="#1a1a1a" stroke-width="0.06">MEM166</text>
<text x="226.1" y="481.3" font-size="8" text-anchor="middle" fill="#1a1a1a" textLength="21.1" lengthAdjust="spacingAndGlyphs" stroke="#1a1a1a" stroke-width="0.06">PR3D1</text>
<text x="262" y="481.3" font-size="8" text-anchor="middle" fill="#1a1a1a" textLength="34.6" lengthAdjust="spacingAndGlyphs" stroke="#1a1a1a" stroke-width="0.06">Anti-CD177</text>
<text x="262.1" y="488.2" font-size="8" text-anchor="middle" fill="#1a1a1a" textLength="14.9" lengthAdjust="spacingAndGlyphs" stroke="#1a1a1a" stroke-width="0.06">hIgG</text>
<text x="306.8" y="481.3" font-size="8" text-anchor="middle" fill="#1a1a1a" textLength="15.2" lengthAdjust="spacingAndGlyphs" stroke="#1a1a1a" stroke-width="0.06">RGD</text>
<line x1="97.5" y1="396.75" x2="121.75" y2="396.75" stroke="#000" stroke-width="1.4"/>
<line x1="130" y1="396.75" x2="154.25" y2="396.75" stroke="#000" stroke-width="1.4"/>
<polyline points="109.5,396.75 109.5,382 141.75,382 141.75,396.75" fill="none" stroke="#000" stroke-width="1.4"/>
<text x="128.25" y="380.2" font-size="7" text-anchor="middle" fill="#1a1a1a" stroke="#1a1a1a" stroke-width="0.06">n.s</text>
<line x1="134.5" y1="371.25" x2="170.75" y2="371.25" stroke="#000" stroke-width="1.4"/>
<circle cx="151.75" cy="368.85" r="1.15" fill="#000"/>
<line x1="143.75" y1="362" x2="177.5" y2="362" stroke="#000" stroke-width="1.4"/>
<text x="160.5" y="361.1" font-size="7" text-anchor="middle" fill="#1a1a1a" stroke="#1a1a1a" stroke-width="0.06">n.s</text>
<line x1="159.5" y1="350.75" x2="190" y2="350.75" stroke="#000" stroke-width="1.4"/>
<circle cx="172" cy="348.35" r="1.15" fill="#000"/>
<circle cx="176.5" cy="348.35" r="1.15" fill="#000"/>
<line x1="174.5" y1="340.75" x2="216.75" y2="340.75" stroke="#000" stroke-width="1.4"/>
<circle cx="195.25" cy="338.35" r="1.15" fill="#000"/>
<circle cx="199.75" cy="338.35" r="1.15" fill="#000"/>
<line x1="162.5" y1="329.75" x2="225.5" y2="329.75" stroke="#000" stroke-width="1.4"/>
<circle cx="190.75" cy="327.35" r="1.15" fill="#000"/>
<circle cx="195.25" cy="327.35" r="1.15" fill="#000"/>
<line x1="182" y1="321.25" x2="262.5" y2="321.25" stroke="#000" stroke-width="1.4"/>
<text x="219.25" y="320.35" font-size="7" text-anchor="middle" fill="#1a1a1a" stroke="#1a1a1a" stroke-width="0.06">n.s</text>
<rect x="342" y="373" width="14.25" height="10" fill="#cc0011"/>
<text x="360" y="380" font-size="6.3" text-anchor="start" fill="#1a1a1a" textLength="52" lengthAdjust="spacingAndGlyphs" stroke="none">rCD177 (HUVECs)</text>
<rect x="342" y="388" width="14.25" height="10.25" fill="#0334a8"/>
<text x="360" y="394.6" font-size="6.3" text-anchor="start" fill="#1a1a1a" textLength="44.3" lengthAdjust="spacingAndGlyphs" stroke="none">rPR3 (HUVECs)</text>
<rect x="342" y="402.5" width="14.25" height="10.5" fill="#44ff00"/>
<text x="360" y="409.3" font-size="6.3" text-anchor="start" fill="#1a1a1a" textLength="66.8" lengthAdjust="spacingAndGlyphs" stroke="none">sCD177/PR3 (HUVECs)</text>
<rect x="342" y="417.5" width="14.25" height="10" fill="#220099"/>
<text x="360" y="424" font-size="6.3" text-anchor="start" fill="#1a1a1a" textLength="67.5" lengthAdjust="spacingAndGlyphs" stroke="none">sCD177/PR3 (HPMECs)</text>
<text x="19" y="507.5" font-size="10.4" text-anchor="middle" fill="#000" font-weight="bold" stroke="#000" stroke-width="0.45">D</text>
<text x="31.5" y="649.3" font-size="8" text-anchor="middle" fill="#1a1a1a" textLength="56.6" lengthAdjust="spacingAndGlyphs" transform="rotate(-90 31.5 649.3)" stroke="#1a1a1a" stroke-width="0.25">Albumin-FITC &#215; 100</text>
<line x1="52" y1="526.8" x2="52" y2="630.3" stroke="#000" stroke-width="1.7"/>
<line x1="48.8" y1="527.5" x2="52" y2="527.5" stroke="#000" stroke-width="1.4"/>
<text x="47.4" y="530.3" font-size="8.2" text-anchor="end" fill="#1a1a1a" stroke="#1a1a1a" stroke-width="0.06">50</text>
<line x1="48.8" y1="547.9" x2="52" y2="547.9" stroke="#000" stroke-width="1.4"/>
<text x="47.4" y="550.7" font-size="8.2" text-anchor="end" fill="#1a1a1a" stroke="#1a1a1a" stroke-width="0.06">40</text>
<line x1="48.8" y1="568.3" x2="52" y2="568.3" stroke="#000" stroke-width="1.4"/>
<text x="47.4" y="571.1" font-size="8.2" text-anchor="end" fill="#1a1a1a" stroke="#1a1a1a" stroke-width="0.06">30</text>
<line x1="48.8" y1="588.7" x2="52" y2="588.7" stroke="#000" stroke-width="1.4"/>
<text x="47.4" y="591.5" font-size="8.2" text-anchor="end" fill="#1a1a1a" stroke="#1a1a1a" stroke-width="0.06">20</text>
<line x1="48.8" y1="609.1" x2="52" y2="609.1" stroke="#000" stroke-width="1.4"/>
<text x="47.4" y="611.9" font-size="8.2" text-anchor="end" fill="#1a1a1a" stroke="#1a1a1a" stroke-width="0.06">10</text>
<line x1="48.8" y1="629.5" x2="52" y2="629.5" stroke="#000" stroke-width="1.4"/>
<text x="47.4" y="632.3" font-size="8.2" text-anchor="end" fill="#1a1a1a" stroke="#1a1a1a" stroke-width="0.06">0</text>
<line x1="50.4" y1="629.5" x2="246.5" y2="629.5" stroke="#000" stroke-width="1.7"/>
<line x1="72" y1="629.5" x2="72" y2="634" stroke="#000" stroke-width="1.2"/>
<line x1="110.75" y1="629.5" x2="110.75" y2="634" stroke="#000" stroke-width="1.2"/>
<line x1="149.5" y1="629.5" x2="149.5" y2="634" stroke="#000" stroke-width="1.2"/>
<line x1="188.25" y1="629.5" x2="188.25" y2="634" stroke="#000" stroke-width="1.2"/>
<line x1="227" y1="629.5" x2="227" y2="634" stroke="#000" stroke-width="1.2"/>
<rect x="55.5" y="610.5" width="7.1" height="19" fill="#cc0011"/>
<line x1="59.05" y1="610.5" x2="59.05" y2="608" stroke="#000" stroke-width="1.4"/>
<line x1="56.92" y1="608.3" x2="61.18" y2="608.3" stroke="#000" stroke-width="1.4"/>
<rect x="64" y="614.5" width="7.1" height="15" fill="#0334a8"/>
<line x1="67.55" y1="614.5" x2="67.55" y2="613" stroke="#000" stroke-width="1.4"/>
<line x1="65.42" y1="613.3" x2="69.68" y2="613.3" stroke="#000" stroke-width="1.4"/>
<rect x="72.5" y="616.5" width="7.1" height="13" fill="#44ff00"/>
<line x1="73.92" y1="616.2" x2="78.18" y2="616.2" stroke="#000" stroke-width="1.4"/>
<rect x="94.25" y="611.25" width="7.1" height="18.25" fill="#cc0011"/>
<line x1="97.8" y1="611.25" x2="97.8" y2="609.25" stroke="#000" stroke-width="1.4"/>
<line x1="95.67" y1="609.55" x2="99.93" y2="609.55" stroke="#000" stroke-width="1.4"/>
<rect x="102.75" y="607" width="7.1" height="22.5" fill="#0334a8"/>
<line x1="104.17" y1="606.7" x2="108.43" y2="606.7" stroke="#000" stroke-width="1.4"/>
<rect x="111.25" y="609.5" width="7.1" height="20" fill="#44ff00"/>
<line x1="112.67" y1="609.2" x2="116.93" y2="609.2" stroke="#000" stroke-width="1.4"/>
<rect x="133" y="612" width="7.1" height="17.5" fill="#cc0011"/>
<line x1="134.42" y1="611.7" x2="138.68" y2="611.7" stroke="#000" stroke-width="1.4"/>
<rect x="141.5" y="606.75" width="7.1" height="22.75" fill="#0334a8"/>
<line x1="142.92" y1="606.4" x2="147.18" y2="606.4" stroke="#000" stroke-width="1.4"/>
<rect x="150" y="549.8" width="7.1" height="79.7" fill="#44ff00"/>
<line x1="151.42" y1="549.5" x2="155.68" y2="549.5" stroke="#000" stroke-width="1.4"/>
<rect x="171.75" y="608.7" width="7.1" height="20.8" fill="#cc0011"/>
<line x1="173.17" y1="608.4" x2="177.43" y2="608.4" stroke="#000" stroke-width="1.4"/>
<rect x="180.25" y="560.6" width="7.1" height="68.9" fill="#0334a8"/>
<line x1="181.67" y1="560.3" x2="185.93" y2="560.3" stroke="#000" stroke-width="1.4"/>
<rect x="188.75" y="558.5" width="7.1" height="71" fill="#44ff00"/>
<line x1="190.17" y1="558.2" x2="194.43" y2="558.2" stroke="#000" stroke-width="1.4"/>
<rect x="210.5" y="614.4" width="7.1" height="15.1" fill="#cc0011"/>
<line x1="211.92" y1="614.1" x2="216.18" y2="614.1" stroke="#000" stroke-width="1.4"/>
<rect x="219" y="609" width="7.1" height="20.5" fill="#0334a8"/>
<line x1="220.42" y1="608.7" x2="224.68" y2="608.7" stroke="#000" stroke-width="1.4"/>
<rect x="227.5" y="556.3" width="7.1" height="73.2" fill="#44ff00"/>
<line x1="228.92" y1="556" x2="233.18" y2="556" stroke="#000" stroke-width="1.4"/>
<rect x="236" y="537" width="7.1" height="92.5" fill="#220099"/>
<line x1="239.55" y1="537" x2="239.55" y2="535.4" stroke="#000" stroke-width="1.4"/>
<line x1="237.42" y1="535.7" x2="241.68" y2="535.7" stroke="#000" stroke-width="1.4"/>
<line x1="59.25" y1="565.5" x2="88" y2="565.5" stroke="#000" stroke-width="1.4"/>
<line x1="99.25" y1="565.5" x2="127.5" y2="565.5" stroke="#000" stroke-width="1.4"/>
<polyline points="73,565.5 73,553 110.5,553 110.5,565.5" fill="none" stroke="#000" stroke-width="1.4"/>
<text x="91.7" y="551.2" font-size="7" text-anchor="middle" fill="#1a1a1a" stroke="#1a1a1a" stroke-width="0.06">n.s</text>
<line x1="103.7" y1="544" x2="140.9" y2="544" stroke="#000" stroke-width="1.4"/>
<text x="121.5" y="543.1" font-size="7" text-anchor="middle" fill="#1a1a1a" stroke="#1a1a1a" stroke-width="0.06">n.s</text>
<line x1="115.4" y1="536" x2="153.8" y2="536" stroke="#000" stroke-width="1.4"/>
<circle cx="129.45" cy="533.6" r="1.15" fill="#000"/>
<circle cx="133.95" cy="533.6" r="1.15" fill="#000"/>
<line x1="116" y1="526.2" x2="187" y2="526.2" stroke="#000" stroke-width="1.4"/>
<circle cx="135.55" cy="523.8" r="1.15" fill="#000"/>
<circle cx="140.05" cy="523.8" r="1.15" fill="#000"/>
<line x1="155.4" y1="517.5" x2="192.9" y2="517.5" stroke="#000" stroke-width="1.4"/>
<text x="176" y="516.6" font-size="7" text-anchor="middle" fill="#1a1a1a" stroke="#1a1a1a" stroke-width="0.06">n.s</text>
<line x1="118.5" y1="508.6" x2="200.6" y2="508.6" stroke="#000" stroke-width="1.4"/>
<circle cx="159.25" cy="506.2" r="1.15" fill="#000"/>
<circle cx="163.75" cy="506.2" r="1.15" fill="#000"/>
<line x1="119.4" y1="500.9" x2="226.8" y2="500.9" stroke="#000" stroke-width="1.4"/>
<circle cx="161.45" cy="498.5" r="1.15" fill="#000"/>
<circle cx="165.95" cy="498.5" r="1.15" fill="#000"/>
<line x1="51.75" y1="672.55" x2="51.75" y2="776.3" stroke="#000" stroke-width="1.7"/>
<line x1="48.55" y1="673.25" x2="51.75" y2="673.25" stroke="#000" stroke-width="1.4"/>
<text x="47.75" y="676.05" font-size="8.2" text-anchor="end" fill="#1a1a1a" stroke="#1a1a1a" stroke-width="0.06">50</text>
<line x1="48.55" y1="693.7" x2="51.75" y2="693.7" stroke="#000" stroke-width="1.4"/>
<text x="47.75" y="696.5" font-size="8.2" text-anchor="end" fill="#1a1a1a" stroke="#1a1a1a" stroke-width="0.06">40</text>
<line x1="48.55" y1="714.1" x2="51.75" y2="714.1" stroke="#000" stroke-width="1.4"/>
<text x="47.75" y="716.9" font-size="8.2" text-anchor="end" fill="#1a1a1a" stroke="#1a1a1a" stroke-width="0.06">30</text>
<line x1="48.55" y1="734.6" x2="51.75" y2="734.6" stroke="#000" stroke-width="1.4"/>
<text x="47.75" y="737.4" font-size="8.2" text-anchor="end" fill="#1a1a1a" stroke="#1a1a1a" stroke-width="0.06">20</text>
<line x1="48.55" y1="755.05" x2="51.75" y2="755.05" stroke="#000" stroke-width="1.4"/>
<text x="47.75" y="757.85" font-size="8.2" text-anchor="end" fill="#1a1a1a" stroke="#1a1a1a" stroke-width="0.06">10</text>
<line x1="48.55" y1="775.5" x2="51.75" y2="775.5" stroke="#000" stroke-width="1.4"/>
<text x="47.75" y="778.3" font-size="8.2" text-anchor="end" fill="#1a1a1a" stroke="#1a1a1a" stroke-width="0.06">0</text>
<line x1="50.15" y1="775.5" x2="246.5" y2="775.5" stroke="#000" stroke-width="1.7"/>
<line x1="72" y1="775.5" x2="72" y2="780" stroke="#000" stroke-width="1.2"/>
<line x1="110.75" y1="775.5" x2="110.75" y2="780" stroke="#000" stroke-width="1.2"/>
<line x1="149.5" y1="775.5" x2="149.5" y2="780" stroke="#000" stroke-width="1.2"/>
<line x1="188.25" y1="775.5" x2="188.25" y2="780" stroke="#000" stroke-width="1.2"/>
<line x1="227" y1="775.5" x2="227" y2="780" stroke="#000" stroke-width="1.2"/>
<rect x="55.5" y="756.75" width="7.1" height="18.75" fill="#cc0011"/>
<line x1="56.92" y1="756.4" x2="61.18" y2="756.4" stroke="#000" stroke-width="1.4"/>
<rect x="64" y="756.75" width="7.1" height="18.75" fill="#0334a8"/>
<line x1="65.42" y1="756.4" x2="69.68" y2="756.4" stroke="#000" stroke-width="1.4"/>
<rect x="72.5" y="756.75" width="7.1" height="18.75" fill="#44ff00"/>
<line x1="73.92" y1="756.4" x2="78.18" y2="756.4" stroke="#000" stroke-width="1.4"/>
<rect x="94.25" y="757" width="7.1" height="18.5" fill="#cc0011"/>
<line x1="95.67" y1="756.7" x2="99.93" y2="756.7" stroke="#000" stroke-width="1.4"/>
<rect x="102.75" y="748.25" width="7.1" height="27.25" fill="#0334a8"/>
<line x1="104.17" y1="747.9" x2="108.43" y2="747.9" stroke="#000" stroke-width="1.4"/>
<rect x="111.25" y="752" width="7.1" height="23.5" fill="#44ff00"/>
<line x1="112.67" y1="751.7" x2="116.93" y2="751.7" stroke="#000" stroke-width="1.4"/>
<rect x="133" y="756.5" width="7.1" height="19" fill="#cc0011"/>
<line x1="134.42" y1="756.2" x2="138.68" y2="756.2" stroke="#000" stroke-width="1.4"/>
<rect x="141.5" y="748.5" width="7.1" height="27" fill="#0334a8"/>
<line x1="142.92" y1="748.2" x2="147.18" y2="748.2" stroke="#000" stroke-width="1.4"/>
<rect x="150" y="693.8" width="7.1" height="81.7" fill="#44ff00"/>
<line x1="151.42" y1="693.5" x2="155.68" y2="693.5" stroke="#000" stroke-width="1.4"/>
<rect x="171.75" y="755.7" width="7.1" height="19.8" fill="#cc0011"/>
<line x1="173.17" y1="755.4" x2="177.43" y2="755.4" stroke="#000" stroke-width="1.4"/>
<rect x="180.25" y="702.2" width="7.1" height="73.3" fill="#0334a8"/>
<line x1="181.67" y1="701.9" x2="185.93" y2="701.9" stroke="#000" stroke-width="1.4"/>
<rect x="188.75" y="700.9" width="7.1" height="74.6" fill="#44ff00"/>
<line x1="190.17" y1="700.6" x2="194.43" y2="700.6" stroke="#000" stroke-width="1.4"/>
<rect x="210.5" y="757.1" width="7.1" height="18.4" fill="#cc0011"/>
<line x1="211.92" y1="756.8" x2="216.18" y2="756.8" stroke="#000" stroke-width="1.4"/>
<rect x="219" y="750.6" width="7.1" height="24.9" fill="#0334a8"/>
<line x1="220.42" y1="750.3" x2="224.68" y2="750.3" stroke="#000" stroke-width="1.4"/>
<rect x="227.5" y="699.4" width="7.1" height="76.1" fill="#44ff00"/>
<line x1="228.92" y1="699.1" x2="233.18" y2="699.1" stroke="#000" stroke-width="1.4"/>
<rect x="236" y="679.4" width="7.1" height="96.1" fill="#220099"/>
<line x1="237.42" y1="679.1" x2="241.68" y2="679.1" stroke="#000" stroke-width="1.4"/>
<line x1="56.25" y1="712.5" x2="85" y2="712.5" stroke="#000" stroke-width="1.4"/>
<line x1="96.25" y1="712.5" x2="125" y2="712.5" stroke="#000" stroke-width="1.4"/>
<polyline points="70.75,712.5 70.75,700.75 107.5,700.75 107.5,712.5" fill="none" stroke="#000" stroke-width="1.4"/>
<text x="89.25" y="699" font-size="7" text-anchor="middle" fill="#1a1a1a" stroke="#1a1a1a" stroke-width="0.06">n.s</text>
<line x1="100" y1="691.4" x2="137.8" y2="691.4" stroke="#000" stroke-width="1.4"/>
<text x="117.8" y="690.5" font-size="7" text-anchor="middle" fill="#1a1a1a" stroke="#1a1a1a" stroke-width="0.06">n.s</text>
<line x1="112.3" y1="683.7" x2="150.8" y2="683.7" stroke="#000" stroke-width="1.4"/>
<circle cx="126.35" cy="681.3" r="1.15" fill="#000"/>
<circle cx="130.85" cy="681.3" r="1.15" fill="#000"/>
<line x1="112.3" y1="673.8" x2="183.7" y2="673.8" stroke="#000" stroke-width="1.4"/>
<circle cx="133.75" cy="671.4" r="1.15" fill="#000"/>
<circle cx="138.25" cy="671.4" r="1.15" fill="#000"/>
<line x1="152.3" y1="665.2" x2="189.8" y2="665.2" stroke="#000" stroke-width="1.4"/>
<text x="173" y="664.3" font-size="7" text-anchor="middle" fill="#1a1a1a" stroke="#1a1a1a" stroke-width="0.06">n.s</text>
<line x1="114.8" y1="656" x2="197.5" y2="656" stroke="#000" stroke-width="1.4"/>
<circle cx="156.75" cy="653.6" r="1.15" fill="#000"/>
<circle cx="161.25" cy="653.6" r="1.15" fill="#000"/>
<line x1="116" y1="648.6" x2="223.1" y2="648.6" stroke="#000" stroke-width="1.4"/>
<circle cx="160.75" cy="646.2" r="1.15" fill="#000"/>
<circle cx="165.25" cy="646.2" r="1.15" fill="#000"/>
<text x="71.75" y="787.8" font-size="8" text-anchor="middle" fill="#1a1a1a" textLength="20.8" lengthAdjust="spacingAndGlyphs" stroke="#1a1a1a" stroke-width="0.06">Saline</text>
<text x="110.65" y="787.8" font-size="8" text-anchor="middle" fill="#1a1a1a" textLength="18.4" lengthAdjust="spacingAndGlyphs" stroke="#1a1a1a" stroke-width="0.06">mIgG</text>
<text x="149.6" y="787.8" font-size="8" text-anchor="middle" fill="#1a1a1a" textLength="27.6" lengthAdjust="spacingAndGlyphs" stroke="#1a1a1a" stroke-width="0.06">MEM166</text>
<text x="187.5" y="787.8" font-size="8" text-anchor="middle" fill="#1a1a1a" textLength="20.5" lengthAdjust="spacingAndGlyphs" stroke="#1a1a1a" stroke-width="0.06">PR3D1</text>
<text x="227.3" y="787.8" font-size="8" text-anchor="middle" fill="#1a1a1a" textLength="34.7" lengthAdjust="spacingAndGlyphs" stroke="#1a1a1a" stroke-width="0.06">Anti-CD177</text>
<text x="227.4" y="795" font-size="8" text-anchor="middle" fill="#1a1a1a" textLength="14.1" lengthAdjust="spacingAndGlyphs" stroke="#1a1a1a" stroke-width="0.06">hIgG</text>
<text x="283.1" y="507.5" font-size="10.4" text-anchor="middle" fill="#000" font-weight="bold" stroke="#000" stroke-width="0.45">E</text>
<text x="287" y="649.5" font-size="8" text-anchor="middle" fill="#1a1a1a" textLength="57" lengthAdjust="spacingAndGlyphs" transform="rotate(-90 287 649.5)" stroke="#1a1a1a" stroke-width="0.25">Albumin-FITC &#215; 100</text>
<line x1="309" y1="526.05" x2="309" y2="630.3" stroke="#000" stroke-width="1.7"/>
<line x1="305.8" y1="526.75" x2="309" y2="526.75" stroke="#000" stroke-width="1.4"/>
<text x="303.4" y="529.55" font-size="8.2" text-anchor="end" fill="#1a1a1a" stroke="#1a1a1a" stroke-width="0.06">50</text>
<line x1="305.8" y1="547.3" x2="309" y2="547.3" stroke="#000" stroke-width="1.4"/>
<text x="303.4" y="550.1" font-size="8.2" text-anchor="end" fill="#1a1a1a" stroke="#1a1a1a" stroke-width="0.06">40</text>
<line x1="305.8" y1="567.9" x2="309" y2="567.9" stroke="#000" stroke-width="1.4"/>
<text x="303.4" y="570.7" font-size="8.2" text-anchor="end" fill="#1a1a1a" stroke="#1a1a1a" stroke-width="0.06">30</text>
<line x1="305.8" y1="588.5" x2="309" y2="588.5" stroke="#000" stroke-width="1.4"/>
<text x="303.4" y="591.3" font-size="8.2" text-anchor="end" fill="#1a1a1a" stroke="#1a1a1a" stroke-width="0.06">20</text>
<line x1="305.8" y1="609.1" x2="309" y2="609.1" stroke="#000" stroke-width="1.4"/>
<text x="303.4" y="611.9" font-size="8.2" text-anchor="end" fill="#1a1a1a" stroke="#1a1a1a" stroke-width="0.06">10</text>
<line x1="305.8" y1="629.5" x2="309" y2="629.5" stroke="#000" stroke-width="1.4"/>
<text x="303.4" y="632.3" font-size="8.2" text-anchor="end" fill="#1a1a1a" stroke="#1a1a1a" stroke-width="0.06">0</text>
<line x1="307.4" y1="629.5" x2="505.7" y2="629.5" stroke="#000" stroke-width="1.7"/>
<line x1="328" y1="629.5" x2="328" y2="634" stroke="#000" stroke-width="1.2"/>
<line x1="367.45" y1="629.5" x2="367.45" y2="634" stroke="#000" stroke-width="1.2"/>
<line x1="406.9" y1="629.5" x2="406.9" y2="634" stroke="#000" stroke-width="1.2"/>
<line x1="446.35" y1="629.5" x2="446.35" y2="634" stroke="#000" stroke-width="1.2"/>
<line x1="485.8" y1="629.5" x2="485.8" y2="634" stroke="#000" stroke-width="1.2"/>
<rect x="312.5" y="604.5" width="7.4" height="25" fill="#cc0011"/>
<line x1="313.98" y1="604.2" x2="318.42" y2="604.2" stroke="#000" stroke-width="1.4"/>
<rect x="320.75" y="604.5" width="7.4" height="25" fill="#0334a8"/>
<line x1="322.23" y1="604.2" x2="326.67" y2="604.2" stroke="#000" stroke-width="1.4"/>
<rect x="329" y="605.75" width="7.4" height="23.75" fill="#44ff00"/>
<line x1="330.48" y1="605.4" x2="334.92" y2="605.4" stroke="#000" stroke-width="1.4"/>
<rect x="351.95" y="603.75" width="7.4" height="25.75" fill="#cc0011"/>
<line x1="353.43" y1="603.4" x2="357.87" y2="603.4" stroke="#000" stroke-width="1.4"/>
<rect x="360.2" y="605.75" width="7.4" height="23.75" fill="#0334a8"/>
<line x1="361.68" y1="605.4" x2="366.12" y2="605.4" stroke="#000" stroke-width="1.4"/>
<rect x="368.45" y="605" width="7.4" height="24.5" fill="#44ff00"/>
<line x1="369.93" y1="604.7" x2="374.37" y2="604.7" stroke="#000" stroke-width="1.4"/>
<rect x="391.4" y="605.2" width="7.4" height="24.3" fill="#cc0011"/>
<line x1="392.88" y1="604.9" x2="397.32" y2="604.9" stroke="#000" stroke-width="1.4"/>
<rect x="399.65" y="604.7" width="7.4" height="24.8" fill="#0334a8"/>
<line x1="401.13" y1="604.4" x2="405.57" y2="604.4" stroke="#000" stroke-width="1.4"/>
<rect x="407.9" y="602.8" width="7.4" height="26.7" fill="#44ff00"/>
<line x1="409.38" y1="602.5" x2="413.82" y2="602.5" stroke="#000" stroke-width="1.4"/>
<rect x="430.85" y="604.1" width="7.4" height="25.4" fill="#cc0011"/>
<line x1="432.33" y1="603.8" x2="436.77" y2="603.8" stroke="#000" stroke-width="1.4"/>
<rect x="439.1" y="604.1" width="7.4" height="25.4" fill="#0334a8"/>
<line x1="440.58" y1="603.8" x2="445.02" y2="603.8" stroke="#000" stroke-width="1.4"/>
<rect x="447.35" y="601.7" width="7.4" height="27.8" fill="#44ff00"/>
<line x1="448.83" y1="601.4" x2="453.27" y2="601.4" stroke="#000" stroke-width="1.4"/>
<rect x="470.3" y="605.2" width="7.4" height="24.3" fill="#cc0011"/>
<line x1="471.78" y1="604.9" x2="476.22" y2="604.9" stroke="#000" stroke-width="1.4"/>
<rect x="478.55" y="602.8" width="7.4" height="26.7" fill="#0334a8"/>
<line x1="480.03" y1="602.5" x2="484.47" y2="602.5" stroke="#000" stroke-width="1.4"/>
<rect x="486.8" y="602.8" width="7.4" height="26.7" fill="#44ff00"/>
<line x1="488.28" y1="602.5" x2="492.72" y2="602.5" stroke="#000" stroke-width="1.4"/>
<rect x="495.05" y="537.1" width="7.4" height="92.4" fill="#220099"/>
<line x1="496.53" y1="536.8" x2="500.97" y2="536.8" stroke="#000" stroke-width="1.4"/>
<line x1="327.6" y1="532" x2="327.6" y2="561.3" stroke="#000" stroke-width="1.4"/>
<line x1="319.5" y1="561.3" x2="336.4" y2="561.3" stroke="#000" stroke-width="1.4"/>
<polyline points="327.6,532 483.1,532 483.1,562.7" fill="none" stroke="#000" stroke-width="1.4"/>
<line x1="475.6" y1="562.7" x2="491.7" y2="562.7" stroke="#000" stroke-width="1.4"/>
<polyline points="327.6,540.5 443.3,540.5 443.3,560.8" fill="none" stroke="#000" stroke-width="1.4"/>
<line x1="435.2" y1="560.8" x2="451.6" y2="560.8" stroke="#000" stroke-width="1.4"/>
<polyline points="327.6,547.7 401,547.7 401,566" fill="none" stroke="#000" stroke-width="1.4"/>
<line x1="393.3" y1="566" x2="409.8" y2="566" stroke="#000" stroke-width="1.4"/>
<polyline points="327.6,554.4 366.4,554.4 366.4,566" fill="none" stroke="#000" stroke-width="1.4"/>
<line x1="358.2" y1="566" x2="374.5" y2="566" stroke="#000" stroke-width="1.4"/>
<text x="410.4" y="529.8" font-size="7" text-anchor="middle" fill="#1a1a1a" stroke="#1a1a1a" stroke-width="0.06">n.s</text>
<line x1="308.1" y1="668.55" x2="308.1" y2="774.8" stroke="#000" stroke-width="1.7"/>
<line x1="304.9" y1="669.25" x2="308.1" y2="669.25" stroke="#000" stroke-width="1.4"/>
<text x="302.9" y="672.05" font-size="8.2" text-anchor="end" fill="#1a1a1a" stroke="#1a1a1a" stroke-width="0.06">50</text>
<line x1="304.9" y1="690.2" x2="308.1" y2="690.2" stroke="#000" stroke-width="1.4"/>
<text x="302.9" y="693" font-size="8.2" text-anchor="end" fill="#1a1a1a" stroke="#1a1a1a" stroke-width="0.06">40</text>
<line x1="304.9" y1="711.15" x2="308.1" y2="711.15" stroke="#000" stroke-width="1.4"/>
<text x="302.9" y="713.95" font-size="8.2" text-anchor="end" fill="#1a1a1a" stroke="#1a1a1a" stroke-width="0.06">30</text>
<line x1="304.9" y1="732.1" x2="308.1" y2="732.1" stroke="#000" stroke-width="1.4"/>
<text x="302.9" y="734.9" font-size="8.2" text-anchor="end" fill="#1a1a1a" stroke="#1a1a1a" stroke-width="0.06">20</text>
<line x1="304.9" y1="753.05" x2="308.1" y2="753.05" stroke="#000" stroke-width="1.4"/>
<text x="302.9" y="755.85" font-size="8.2" text-anchor="end" fill="#1a1a1a" stroke="#1a1a1a" stroke-width="0.06">10</text>
<line x1="304.9" y1="774" x2="308.1" y2="774" stroke="#000" stroke-width="1.4"/>
<text x="302.9" y="776.8" font-size="8.2" text-anchor="end" fill="#1a1a1a" stroke="#1a1a1a" stroke-width="0.06">0</text>
<line x1="306.5" y1="774" x2="508.8" y2="774" stroke="#000" stroke-width="1.7"/>
<line x1="328.5" y1="774" x2="328.5" y2="778.5" stroke="#000" stroke-width="1.2"/>
<line x1="368.4" y1="774" x2="368.4" y2="778.5" stroke="#000" stroke-width="1.2"/>
<line x1="408.3" y1="774" x2="408.3" y2="778.5" stroke="#000" stroke-width="1.2"/>
<line x1="448.2" y1="774" x2="448.2" y2="778.5" stroke="#000" stroke-width="1.2"/>
<line x1="488.1" y1="774" x2="488.1" y2="778.5" stroke="#000" stroke-width="1.2"/>
<rect x="312.2" y="751.25" width="7.5" height="22.75" fill="#cc0011"/>
<line x1="313.7" y1="750.9" x2="318.2" y2="750.9" stroke="#000" stroke-width="1.4"/>
<rect x="320.6" y="749.25" width="7.5" height="24.75" fill="#0334a8"/>
<line x1="322.1" y1="748.9" x2="326.6" y2="748.9" stroke="#000" stroke-width="1.4"/>
<rect x="328.9" y="748.25" width="7.5" height="25.75" fill="#44ff00"/>
<line x1="330.4" y1="747.9" x2="334.9" y2="747.9" stroke="#000" stroke-width="1.4"/>
<rect x="352.1" y="748" width="7.5" height="26" fill="#cc0011"/>
<line x1="353.6" y1="747.7" x2="358.1" y2="747.7" stroke="#000" stroke-width="1.4"/>
<rect x="360.5" y="751.5" width="7.5" height="22.5" fill="#0334a8"/>
<line x1="362" y1="751.2" x2="366.5" y2="751.2" stroke="#000" stroke-width="1.4"/>
<rect x="368.8" y="750.25" width="7.5" height="23.75" fill="#44ff00"/>
<line x1="370.3" y1="749.9" x2="374.8" y2="749.9" stroke="#000" stroke-width="1.4"/>
<rect x="392" y="749.6" width="7.5" height="24.4" fill="#cc0011"/>
<line x1="393.5" y1="749.3" x2="398" y2="749.3" stroke="#000" stroke-width="1.4"/>
<rect x="400.4" y="749.9" width="7.5" height="24.1" fill="#0334a8"/>
<line x1="401.9" y1="749.6" x2="406.4" y2="749.6" stroke="#000" stroke-width="1.4"/>
<rect x="408.7" y="749.9" width="7.5" height="24.1" fill="#44ff00"/>
<line x1="410.2" y1="749.6" x2="414.7" y2="749.6" stroke="#000" stroke-width="1.4"/>
<rect x="431.9" y="748.8" width="7.5" height="25.2" fill="#cc0011"/>
<line x1="433.4" y1="748.5" x2="437.9" y2="748.5" stroke="#000" stroke-width="1.4"/>
<rect x="440.3" y="749.3" width="7.5" height="24.7" fill="#0334a8"/>
<line x1="441.8" y1="749" x2="446.3" y2="749" stroke="#000" stroke-width="1.4"/>
<rect x="448.6" y="744.5" width="7.5" height="29.5" fill="#44ff00"/>
<line x1="450.1" y1="744.2" x2="454.6" y2="744.2" stroke="#000" stroke-width="1.4"/>
<rect x="471.8" y="747.7" width="7.5" height="26.3" fill="#cc0011"/>
<line x1="473.3" y1="747.4" x2="477.8" y2="747.4" stroke="#000" stroke-width="1.4"/>
<rect x="480.2" y="746.6" width="7.5" height="27.4" fill="#0334a8"/>
<line x1="481.7" y1="746.3" x2="486.2" y2="746.3" stroke="#000" stroke-width="1.4"/>
<rect x="488.5" y="744.7" width="7.5" height="29.3" fill="#44ff00"/>
<line x1="490" y1="744.4" x2="494.5" y2="744.4" stroke="#000" stroke-width="1.4"/>
<rect x="497.5" y="679.8" width="7.5" height="94.2" fill="#220099"/>
<line x1="499" y1="679.5" x2="503.5" y2="679.5" stroke="#000" stroke-width="1.4"/>
<line x1="327.5" y1="681.5" x2="327.5" y2="712" stroke="#000" stroke-width="1.4"/>
<line x1="320" y1="712" x2="336.5" y2="712" stroke="#000" stroke-width="1.4"/>
<polyline points="327.5,681.7 485,681.7 485,712.7" fill="none" stroke="#000" stroke-width="1.4"/>
<line x1="477.5" y1="712.7" x2="493.9" y2="712.7" stroke="#000" stroke-width="1.4"/>
<polyline points="327.5,689.9 444.6,689.9 444.6,710.8" fill="none" stroke="#000" stroke-width="1.4"/>
<line x1="436" y1="710.8" x2="453.2" y2="710.8" stroke="#000" stroke-width="1.4"/>
<polyline points="327.5,697.9 401.5,697.9 401.5,717" fill="none" stroke="#000" stroke-width="1.4"/>
<line x1="393.5" y1="717" x2="410.4" y2="717" stroke="#000" stroke-width="1.4"/>
<polyline points="327.5,704.5 366.75,704.5 366.75,717" fill="none" stroke="#000" stroke-width="1.4"/>
<line x1="358" y1="717" x2="375" y2="717" stroke="#000" stroke-width="1.4"/>
<text x="410.4" y="679.4" font-size="7" text-anchor="middle" fill="#1a1a1a" stroke="#1a1a1a" stroke-width="0.06">n.s</text>
<text x="328.6" y="785.3" font-size="8" text-anchor="middle" fill="#1a1a1a" textLength="20.8" lengthAdjust="spacingAndGlyphs" stroke="#1a1a1a" stroke-width="0.06">Saline</text>
<text x="368.6" y="785.3" font-size="8" text-anchor="middle" fill="#1a1a1a" textLength="18.7" lengthAdjust="spacingAndGlyphs" stroke="#1a1a1a" stroke-width="0.06">mIgG</text>
<text x="408.2" y="785.3" font-size="8" text-anchor="middle" fill="#1a1a1a" textLength="28.2" lengthAdjust="spacingAndGlyphs" stroke="#1a1a1a" stroke-width="0.06">MEM166</text>
<text x="447.8" y="785.3" font-size="8" text-anchor="middle" fill="#1a1a1a" textLength="20.8" lengthAdjust="spacingAndGlyphs" stroke="#1a1a1a" stroke-width="0.06">PR3D1</text>
<text x="487.9" y="785.3" font-size="8" text-anchor="middle" fill="#1a1a1a" textLength="34.3" lengthAdjust="spacingAndGlyphs" stroke="#1a1a1a" stroke-width="0.06">Anti-CD177</text>
<text x="488" y="792.5" font-size="8" text-anchor="middle" fill="#1a1a1a" textLength="14.4" lengthAdjust="spacingAndGlyphs" stroke="#1a1a1a" stroke-width="0.06">hIgG</text>
<rect x="0.85" y="0.85" width="518.3" height="808.3" fill="none" stroke="#000" stroke-width="1.7"/>
</svg>
</body></html>
